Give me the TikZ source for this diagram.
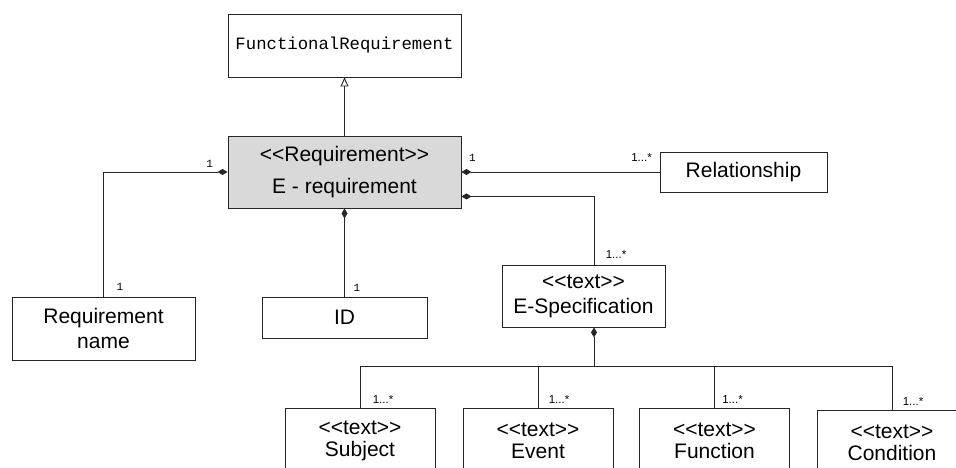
\documentclass[tikz,border=0pt]{standalone}
\usepackage{fontspec}
\setmainfont{Liberation Sans}
\newfontfamily\monofont{Liberation Mono}
\usetikzlibrary{arrows.meta,positioning,calc}
\definecolor{edge}{HTML}{262626}
\definecolor{shade}{HTML}{D9D9D9}
\newcommand\stereo[1]{<\kern0pt<#1>\kern0pt>}
\tikzset{
  umlbox/.style={draw=edge,line width=0.9pt,inner sep=0pt,align=center,
    font=\fontsize{21}{25}\selectfont},
  leaf/.style={umlbox,minimum width=150pt,minimum height=66pt,
    font=\fontsize{21}{22}\selectfont},
  wire/.style={draw=edge,line width=0.9pt},
  comp/.style={wire,{Diamond[length=10pt,width=6pt]}-},
  gen/.style={wire,-{Triangle[open,length=9pt,width=8pt]}},
  one/.style={font=\monofont\fontsize{11}{11}\selectfont,inner sep=0pt},
  many/.style={font=\fontsize{11.5}{11}\selectfont,inner sep=0pt}
}
\begin{document}
\begin{tikzpicture}[x=1pt,y=1pt]
  \useasboundingbox (0,0) rectangle (956,-467);
  \clip (0,0) rectangle (956,-467);
  \node[umlbox,minimum width=233pt,minimum height=63pt,font=\monofont\fontsize{17.3}{20}\selectfont] (fr) at (344.5,-45.5) {FunctionalRequirement};
  \node[umlbox,fill=shade,minimum width=233pt,minimum height=72pt,font=\fontsize{21}{32}\selectfont] (ereq) at (344.5,-172) {\stereo{Requirement}\\E - requirement};
  \node[umlbox,minimum width=183pt,minimum height=63pt] (rname) at (103.5,-328.5) {Requirement\\name};
  \node[umlbox,minimum width=165pt,minimum height=41pt] (id) at (344.5,-317.5) {ID};
  \node[umlbox,minimum width=167pt,minimum height=40pt] (rel) at (743.5,-172) {Relationship};
  \node[umlbox,minimum width=163pt,minimum height=62pt] (espec) at (583.5,-296) {\stereo{text}\\E-Specification};
  \node[leaf] (subj) at (360,-441) {\stereo{text}\\Subject};
  \node[leaf] (event) at (538,-441) {\stereo{text}\\Event};
  \node[leaf] (func) at (714.5,-441) {\stereo{text}\\Function};
  \node[leaf] (cond) at (892,-443) {\stereo{text}\\Condition};
  \draw[gen] (ereq) -- (fr);
  \draw[comp] (ereq.west) -| (rname.north);
  \draw[comp] (ereq.south) -- (id.north);
  \draw[comp] (ereq.east) -- (rel.west);
  \draw[comp] ([yshift=12pt]ereq.south east) -| ([xshift=10.5pt]espec.north);
  \draw[comp] ([xshift=10.5pt]espec.south) -- ++(0,-39) coordinate (junc);
  \foreach \n in {subj,event,func,cond}
    \draw[wire] (junc) -| (\n.north);
  \node[one] at ([shift={(-18,8)}]ereq.west) {1};
  \node[one] at ([shift={(16.5,10)}]rname.north) {1};
  \node[one] at ([shift={(12.5,9)}]id.north) {1};
  \node[one] at ([shift={(11,14)}]ereq.east) {1};
  \node[many] at ([shift={(-18,14)}]rel.west) {1...*};
  \node[many] at ([shift={(32.5,10)}]espec.north) {1...*};
  \foreach \n/\dx in {subj/23,event/21,func/18,cond/21}
    \node[many] at ([shift={(\dx,8)}]\n.north) {1...*};
\end{tikzpicture}
\end{document}
